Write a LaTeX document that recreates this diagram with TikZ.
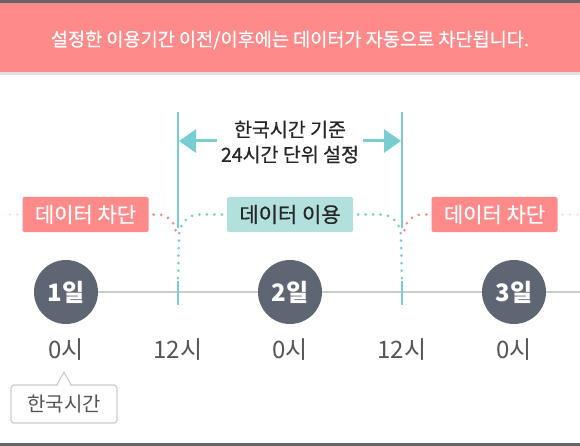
\documentclass[tikz,border=0pt]{standalone}
\usepackage{fontspec}
\setmainfont{Noto Sans CJK KR}
\newfontfamily\medfont{Noto Sans CJK KR}[FakeBold=0.6]
\usetikzlibrary{arrows.meta,positioning}

\definecolor{bannerpink}{HTML}{FF8A8A}
\definecolor{faintpink}{HTML}{FDE2E2}
\definecolor{lineteal}{HTML}{78CDD0}
\definecolor{useboxteal}{HTML}{B2E0DD}
\definecolor{daycircle}{HTML}{5F6673}
\definecolor{axisgray}{HTML}{CCCCCC}
\definecolor{textgray}{HTML}{555555}
\definecolor{bargray}{HTML}{666666}

\begin{document}
\begin{tikzpicture}[x=1pt,y=-1pt,>={Triangle[length=17pt,width=23pt]},line join=round,
  daynode/.style={circle,fill=daycircle,minimum size=64pt,inner sep=0pt,text=white,font=\fontsize{24}{26}\selectfont\bfseries},
  hourlabel/.style={text=textgray,font=\fontsize{24}{26}\selectfont},
  stateblock/.style={rounded corners=2pt,minimum width=126pt,minimum height=35pt,inner sep=0pt,font=\fontsize{21}{23}\selectfont\medfont},
  blockoff/.style={stateblock,fill=bannerpink,text=white},
  blockon/.style={stateblock,fill=useboxteal,text=black!85},
  dotline/.style={line width=3pt,line cap=round,dash pattern=on 0pt off 7.5pt},
  cutline/.style={lineteal,line width=2pt}]
\useasboundingbox (0,0) rectangle (580,446);
\fill[white] (0,0) rectangle (580,446);
% banner
\fill[bargray] (0,0) rectangle (580,3);
\fill[bannerpink] (0,3) rectangle (580,72);
\fill[black!12] (0,72) rectangle (580,75);
\node[text=white,font=\fontsize{18.6}{20}\selectfont\medfont] (title) at (290,40) {설정한 이용기간 이전/이후에는 데이터가 자동으로 차단됩니다.};
\fill[bargray] (0,443) rectangle (580,446);
% 24h window
\coordinate (cutLtop) at (178,112);
\coordinate (cutLmid) at (178,228);
\coordinate (cutLlow) at (178,281);
\coordinate (cutLbot) at (178,305);
\coordinate (cutRtop) at (402,112);
\coordinate (cutRmid) at (402,228);
\coordinate (cutRlow) at (402,281);
\coordinate (cutRbot) at (402,305);
\draw[cutline] (cutLtop) -- (cutLmid);
\draw[cutline] (cutRtop) -- (cutRmid);
\node[align=center,text=black!85,font=\fontsize{19.5}{25}\selectfont\medfont,inner sep=4pt] (window) at (290,142) {한국시간 기준\\24시간 단위 설정};
\draw[->,lineteal,line width=3pt] (window.west |- 0,141) -- (179,141);
\draw[->,lineteal,line width=3pt] (window.east |- 0,141) -- (401,141);
% state blocks
\node[blockoff] (offL) at (85.5,214.5) {데이터 차단};
\node[blockon] (useM) at (290,214.5) {데이터 이용};
\node[blockoff] (offR) at (494.5,214.5) {데이터 차단};
\coordinate (edgeL) at (6,214.5);
\coordinate (edgeR) at (580,214.5);
\draw[dotline,faintpink] (offL.west) ++(-5,0) -- (edgeL);
\draw[dotline,faintpink] (offR.east) ++(5,0) -- (edgeR);
\draw[dotline,bannerpink] (offL.east) ++(5,0) -- (158,214.5) to[out=0,in=90] (176,234);
\draw[dotline,bannerpink] (offR.west) ++(-5,0) -- (422,214.5) to[out=180,in=90] (404,234);
\draw[dotline,lineteal] (useM.west) ++(-5,0) -- (199,214.5) to[out=180,in=90] (179,236) -- (cutLlow);
\draw[dotline,lineteal] (useM.east) ++(5,0) -- (381,214.5) to[out=0,in=90] (401,236) -- (cutRlow);
% timeline
\node[daynode] (d1) at (66,292) {1일};
\node[daynode] (d2) at (290,292) {2일};
\node[daynode] (d3) at (514,292) {3일};
\coordinate (axisend) at (580,292);
\draw[axisgray,line width=2.5pt] (d1) -- (d2) (d2) -- (d3) (d3) -- (axisend);
\draw[cutline] (cutLlow) -- (cutLbot);
\draw[cutline] (cutRlow) -- (cutRbot);
\node[hourlabel] (h1) at (66,350) {0시};
\node[hourlabel] (h2) at (178,350) {12시};
\node[hourlabel] (h3) at (290,350) {0시};
\node[hourlabel] (h4) at (402,350) {12시};
\node[hourlabel] (h5) at (514,350) {0시};
% callout
\node[draw=axisgray,line width=1.2pt,rounded corners=3pt,fill=white,minimum width=106pt,minimum height=38pt,text=textgray,font=\fontsize{20}{22}\selectfont] (kst) at (64,404) {한국시간};
\filldraw[draw=axisgray,fill=white,line width=1.2pt] (56.5,385.8) -- (64,372) -- (71.5,385.8);
\end{tikzpicture}
\end{document}
